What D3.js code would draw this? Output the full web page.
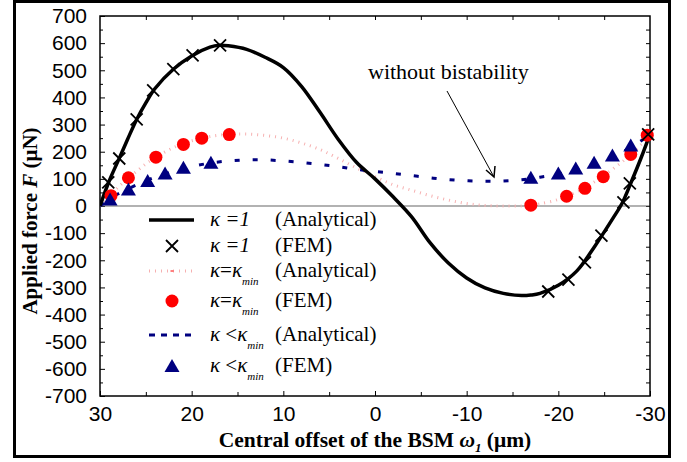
<!DOCTYPE html>
<html>
<head>
<meta charset="utf-8">
<title>Applied force vs central offset</title>
<style>
  body { margin: 0; background: #fff; }
  .tick text { font-family: "Liberation Sans", Arial, sans-serif; font-size: 21px; fill: #000; }
  .serif { font-family: "Liberation Serif", "Times New Roman", serif; }
</style>
</head>
<body>
<script src="https://cdn.jsdelivr.net/npm/d3@7"></script>
<script>
// ---- data ----
// kappa = 1, analytical
var k1X = [30, 29, 28, 27, 26, 25, 24, 22, 20, 18, 17, 16, 14, 12, 10, 8, 6, 4, 2, 0, -2, -4, -6, -8, -10, -12, -14, -16, -17, -18, -20, -22, -24, -26, -27, -28, -29, -30];
var k1Y = [0, 92, 168, 245, 319, 380, 433, 504, 553, 585, 592, 590, 577, 548, 510, 440, 345, 245, 160, 100, 33, -40, -135, -210, -265, -302, -322, -330, -328, -322, -292, -240, -147, -43, 13, 92, 175, 265];
// kappa = 1, FEM
var k1FemX = [29.1, 27.9, 26, 24.2, 22, 19.9, 16.9, -18.9, -21.1, -22.9, -24.7, -27.1, -27.8, -29.8];
var k1FemY = [87, 175, 319, 426, 504, 555, 592, -315, -271, -208, -109, 13, 83, 264];
// kappa = kappa_min, analytical
var kmX = [30, 29, 28, 27, 26, 25, 24, 22, 20, 18, 16, 14, 12, 10, 8, 6, 4, 2, 0, -2, -4, -6, -8, -10, -12, -14, -16, -17, -18, -20, -22, -24, -26, -28, -30];
var kmY = [0, 35, 70, 100, 128, 155, 178, 215, 240, 256, 264, 265, 260, 250, 232, 208, 175, 140, 108, 78, 58, 38, 22, 9, 2, 0, 0, 2, 8, 24, 52, 90, 138, 192, 262];
// kappa = kappa_min, FEM
var kmFemX = [28.8, 26.9, 23.9, 20.9, 18.9, 15.9, -17, -20.9, -22.9, -24.9, -27.9, -29.7];
var kmFemY = [38, 104, 180, 227, 250, 263, 3, 36, 65, 108, 190, 261];
// kappa < kappa_min, analytical
var klX = [30, 29, 28, 27, 26, 25, 24, 22, 20, 18, 16, 14, 12, 10, 8, 6, 4, 2, 0, -2, -4, -6, -8, -10, -12, -14, -16, -18, -20, -22, -24, -26, -28, -30];
var klY = [0, 25, 45, 62, 78, 93, 106, 128, 145, 158, 166, 170, 170, 166, 160, 153, 145, 135, 127, 120, 112, 104, 97, 93, 91, 92, 97, 106, 118, 136, 158, 184, 218, 262];
// kappa < kappa_min, FEM
var klFemX = [28.9, 26.9, 24.8, 22.9, 20.9, 17.9, -17, -20, -21.9, -23.9, -25.9, -27.9];
var klFemY = [24, 61, 92, 120, 141, 159, 104, 120, 138, 159, 186, 223];

var xTicks = [30, 20, 10, 0, -10, -20, -30];
var yTicks = [700, 600, 500, 400, 300, 200, 100, 0, -100, -200, -300, -400, -500, -600, -700];

var legendRel = ["=", "=", "=", "=", "<", "<"];
var legendKind = ["(Analytical)", "(FEM)", "(Analytical)", "(FEM)", "(Analytical)", "(FEM)"];

// ---- layout ----
var w = 687, h = 462;
var margin = {top: 16, right: 37, bottom: 66, left: 100};

var x = d3.scaleLinear().domain([30, -30]).range([margin.left, w - margin.right]);
var y = d3.scaleLinear().domain([-700, 700]).range([h - margin.bottom, margin.top]);

var svg = d3.select("body").append("svg")
  .attr("width", w)
  .attr("height", h);

// outer frame
svg.append("rect")
  .attr("x", 14.5).attr("y", 1.5)
  .attr("width", 655).attr("height", 455)
  .attr("fill", "none").attr("stroke", "#000").attr("stroke-width", 3);

svg.append("clipPath").attr("id", "clip")
  .append("rect")
  .attr("x", margin.left).attr("y", margin.top)
  .attr("width", w - margin.left - margin.right)
  .attr("height", h - margin.top - margin.bottom);

var plain = function(d) { return String(d); };

// axes (ticks pointing inward)
var yAxis = d3.axisLeft(y).tickValues(yTicks).tickSize(-5).tickPadding(13).tickFormat(plain);
svg.append("g").attr("transform", "translate(" + margin.left + ",0)").call(yAxis)
  .call(function(g) { g.select(".domain").remove(); });
svg.append("g").attr("transform", "translate(" + margin.left + ",0)")
  .call(d3.axisLeft(y).tickValues(d3.range(-650, 700, 100)).tickSize(-3).tickFormat(""))
  .call(function(g) { g.select(".domain").remove(); });
svg.append("g").attr("transform", "translate(" + (w - margin.right) + ",0)")
  .call(d3.axisRight(y).tickValues(d3.range(-650, 700, 50)).tickSize(-4).tickFormat(""))
  .call(function(g) { g.select(".domain").remove(); });

var xAxis = d3.axisBottom(x).tickValues(xTicks).tickSize(-5).tickPadding(10).tickFormat(plain);
svg.append("g").attr("transform", "translate(0," + (h - margin.bottom) + ")").call(xAxis)
  .call(function(g) { g.select(".domain").remove(); });
svg.append("g").attr("transform", "translate(0," + (h - margin.bottom) + ")")
  .call(d3.axisBottom(x).tickValues([25, 15, 5, -5, -15, -25]).tickSize(-4).tickFormat(""))
  .call(function(g) { g.select(".domain").remove(); });
svg.append("g").attr("transform", "translate(0," + margin.top + ")")
  .call(d3.axisTop(x).tickValues(d3.range(-25, 30, 5)).tickSize(-4).tickFormat(""))
  .call(function(g) { g.select(".domain").remove(); });

svg.selectAll(".tick line").attr("stroke", "#000").attr("stroke-width", 1);

// zero line
svg.append("line")
  .attr("x1", x(30)).attr("x2", x(-30))
  .attr("y1", y(0)).attr("y2", y(0))
  .attr("stroke", "#666").attr("stroke-width", 1.2);

// plot box
svg.append("rect")
  .attr("x", margin.left).attr("y", margin.top)
  .attr("width", w - margin.left - margin.right)
  .attr("height", h - margin.top - margin.bottom)
  .attr("fill", "none").attr("stroke", "#000").attr("stroke-width", 1.5);

var plot = svg.append("g").attr("clip-path", "url(#clip)");

function pts(xs, ys) { return xs.map(function(v, i) { return [v, ys[i]]; }); }

var line = d3.line()
  .x(function(d) { return x(d[0]); })
  .y(function(d) { return y(d[1]); })
  .curve(d3.curveCatmullRom.alpha(0.5));

// analytical curves
plot.append("path").datum(pts(kmX, kmY)).attr("d", line)
  .attr("fill", "none").attr("stroke", "#f6b0b0").attr("stroke-width", 3)
  .attr("stroke-dasharray", "1,5");
plot.append("path").datum(pts(klX, klY)).attr("d", line)
  .attr("fill", "none").attr("stroke", "#000080").attr("stroke-width", 3)
  .attr("stroke-dasharray", "5,13");
plot.append("path").datum(pts(k1X, k1Y)).attr("d", line)
  .attr("fill", "none").attr("stroke", "#000").attr("stroke-width", 3.5);

// markers
function cross(g, cx, cy) {
  var s = 6;
  g.append("path")
    .attr("d", "M" + (cx - s) + "," + (cy - s) + "L" + (cx + s) + "," + (cy + s) +
               "M" + (cx - s) + "," + (cy + s) + "L" + (cx + s) + "," + (cy - s))
    .attr("stroke", "#000").attr("stroke-width", 1.8).attr("fill", "none");
}
function tri(g, cx, cy) {
  g.append("path")
    .attr("d", "M" + cx + "," + (cy - 7) + "L" + (cx + 7.5) + "," + (cy + 6) + "L" + (cx - 7.5) + "," + (cy + 6) + "Z")
    .attr("fill", "#000080");
}

var marks = svg.append("g");
kmFemX.forEach(function(v, i) {
  marks.append("circle").attr("cx", x(v)).attr("cy", y(kmFemY[i])).attr("r", 6.5).attr("fill", "#ff0000");
});
klFemX.forEach(function(v, i) { tri(marks, x(v), y(klFemY[i])); });
k1FemX.forEach(function(v, i) { cross(marks, x(v), y(k1FemY[i])); });

// axis titles
svg.append("text").attr("class", "serif")
  .attr("transform", "translate(37,221) rotate(-90)")
  .attr("text-anchor", "middle")
  .attr("font-size", 21).attr("font-weight", "bold")
  .html('Applied force <tspan font-style="italic">F</tspan> (\u03BCN)');

var xt = svg.append("text").attr("class", "serif")
  .attr("x", 375).attr("y", 447)
  .attr("text-anchor", "middle")
  .attr("font-size", 21.5).attr("font-weight", "bold");
xt.append("tspan").text("Central offset of the BSM ");
xt.append("tspan").attr("font-style", "italic").text("\u03C9");
xt.append("tspan").attr("font-style", "italic").attr("font-size", 13).attr("dy", 5).text("1");
xt.append("tspan").attr("dy", -5).text(" (\u03BCm)");

// annotation
svg.append("text").attr("class", "serif")
  .attr("x", 368).attr("y", 79)
  .attr("font-size", 22)
  .text("without bistability");
svg.append("line")
  .attr("x1", 447).attr("y1", 91).attr("x2", 494).attr("y2", 177)
  .attr("stroke", "#000").attr("stroke-width", 1);
svg.append("path")
  .attr("d", "M486,170L494,177L495,166")
  .attr("fill", "none").attr("stroke", "#000").attr("stroke-width", 1.5);

// legend
var rowY = [226, 252, 277, 307, 341, 372];
var lg = svg.append("g");
legendKind.forEach(function(kind, i) {
  var ry = rowY[i];
  var mx = 172;
  if (i === 0) {
    lg.append("line").attr("x1", 149).attr("x2", 194).attr("y1", ry - 6).attr("y2", ry - 6)
      .attr("stroke", "#000").attr("stroke-width", 3.5);
  } else if (i === 1) {
    cross(lg, mx, ry - 6);
  } else if (i === 2) {
    lg.append("line").attr("x1", 149).attr("x2", 194).attr("y1", ry - 6).attr("y2", ry - 6)
      .attr("stroke", "#f6b0b0").attr("stroke-width", 3).attr("stroke-dasharray", "1,5");
    lg.append("line").attr("x1", mx - 1.5).attr("x2", mx + 1.5).attr("y1", ry - 6).attr("y2", ry - 6)
      .attr("stroke", "#ff0000").attr("stroke-width", 1);
  } else if (i === 3) {
    lg.append("circle").attr("cx", mx).attr("cy", ry - 6).attr("r", 6.5).attr("fill", "#ff0000");
  } else if (i === 4) {
    lg.append("line").attr("x1", 149).attr("x2", 194).attr("y1", ry - 6).attr("y2", ry - 6)
      .attr("stroke", "#000080").attr("stroke-width", 3).attr("stroke-dasharray", "6,6");
  } else {
    tri(lg, mx, ry - 6);
  }
  var t = lg.append("text").attr("class", "serif").attr("x", 210).attr("y", ry).attr("font-size", 21);
  t.append("tspan").attr("font-style", "italic").text("\u03BA");
  if (i < 2) {
    t.append("tspan").attr("font-style", "italic").text(" =1");
  } else {
    t.append("tspan").text(legendRel[i] === "<" ? " <" : "=");
    t.append("tspan").attr("font-style", "italic").text("\u03BA");
    t.append("tspan").attr("font-style", "italic").attr("font-size", 11).attr("dy", 8).text("min");
  }
  lg.append("text").attr("class", "serif").attr("x", 275).attr("y", ry).attr("font-size", 21).text(kind);
});
</script>
</body>
</html>
